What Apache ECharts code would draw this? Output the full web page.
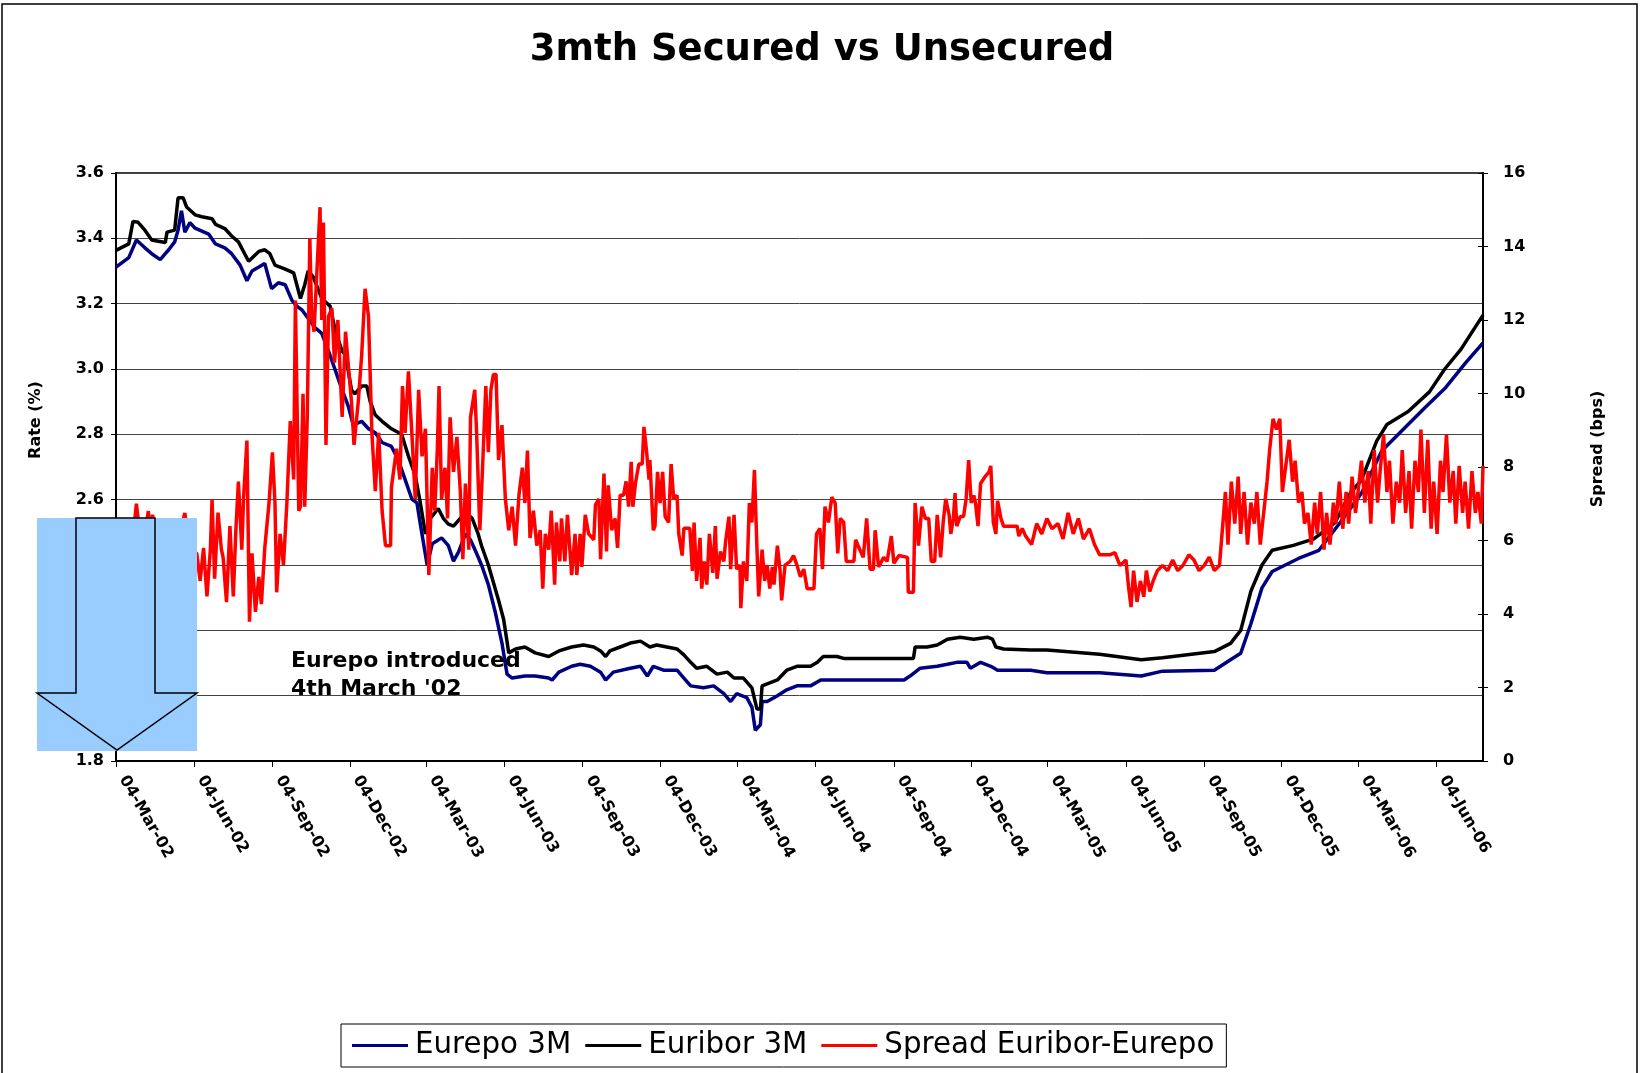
<!DOCTYPE html>
<html>
<head>
<meta charset="utf-8">
<script src="https://cdn.jsdelivr.net/npm/echarts@6/dist/echarts.min.js"></script>
<style>
html,body{margin:0;padding:0;background:#fff;}
#chart{width:1641px;height:1073px;}
</style>
</head>
<body>
<div id="chart"></div>
<script>
// ---------- DATA ----------
// Day offsets are counted in calendar days from 04-Mar-2002.
const startDate = '2002-03-04';
const endDay = 1608;

const tickDates = ['2002-03-04','2002-06-04','2002-09-04','2002-12-04','2003-03-04','2003-06-04','2003-09-04','2003-12-04','2004-03-04','2004-06-04','2004-09-04','2004-12-04','2005-03-04','2005-06-04','2005-09-04','2005-12-04','2006-03-04','2006-06-04'];
const tickLabels = ['04-Mar-02','04-Jun-02','04-Sep-02','04-Dec-02','04-Mar-03','04-Jun-03','04-Sep-03','04-Dec-03','04-Mar-04','04-Jun-04','04-Sep-04','04-Dec-04','04-Mar-05','04-Jun-05','04-Sep-05','04-Dec-05','04-Mar-06','04-Jun-06'];

const seriesNames = ['Eurepo 3M','Euribor 3M','Spread Euribor-Eurepo'];

const eurepoDay = [0,15,24,34,42,52,58,62,69,73,77,81,87,93,109,117,128,136,146,154,160,168,175,183,191,199,207,213,219,234,242,250,258,266,273,279,289,297,305,313,324,332,340,348,354,358,366,372,383,391,397,403,411,417,422,430,438,446,454,460,466,481,493,509,513,521,536,
546,558,570,576,585,605,617,625,632,644,660,668,676,691,703,715,723,730,742,748,752,758,760,766,778,789,801,817,829,848,927,934,946,966,978,989,1001,1005,1017,1029,1037,1076,
1095,1157,1206,1231,1292,1311,1323,1335,1348,1360,1391,1415,1440,1465,1489,1514,1539,1563,1588,1608];
const eurepoRate = [3.312,3.341,3.395,3.371,3.353,3.335,3.353,3.365,3.389,3.425,3.484,3.419,3.448,3.431,3.413,3.383,3.371,3.353,3.318,3.27,3.30,3.312,3.323,3.246,3.264,3.258,3.21,3.192,3.18,3.127,3.109,3.055,2.996,2.936,2.888,2.829,2.84,2.817,2.805,2.775,2.763,2.722,2.662,2.602,2.59,2.525,2.40,2.465,2.483,2.459,2.412,2.44,2.495,2.477,2.448,2.40,2.34,2.257,2.161,2.066,2.054,2.06,2.06,2.054,2.048,2.072,2.09,
2.096,2.09,2.072,2.048,2.072,2.084,2.09,2.06,2.09,2.078,2.078,2.054,2.03,2.024,2.03,2.006,1.982,2.006,1.994,1.965,1.894,1.911,1.982,1.982,2.0,2.018,2.03,2.03,2.048,2.048,2.048,2.06,2.084,2.09,2.096,2.102,2.102,2.084,2.102,2.09,2.078,2.078,
2.07,2.07,2.06,2.075,2.078,2.11,2.13,2.22,2.33,2.38,2.42,2.445,2.53,2.62,2.75,2.815,2.88,2.94,3.02,3.08];

const euriborDay = [0,15,20,26,34,42,58,60,69,73,79,83,93,101,113,117,128,136,144,156,168,175,181,187,199,209,217,222,226,232,242,252,258,266,270,277,281,289,295,299,305,313,324,336,344,352,358,364,370,379,385,391,397,405,411,419,426,430,438,450,456,462,470,481,493,509,521,536,
550,562,570,576,581,593,605,617,628,636,648,660,668,676,683,695,707,719,727,738,748,754,758,760,766,778,789,801,817,825,832,848,856,938,940,954,966,978,993,1009,1025,1031,1035,1044,1076,
1095,1157,1206,1231,1292,1311,1323,1335,1348,1360,1385,1409,1434,1452,1465,1483,1495,1520,1545,1563,1582,1608];
const euriborRate = [3.363,3.383,3.452,3.449,3.425,3.395,3.387,3.419,3.425,3.524,3.524,3.496,3.472,3.466,3.46,3.443,3.43,3.407,3.389,3.33,3.36,3.365,3.353,3.318,3.306,3.294,3.216,3.258,3.30,3.282,3.216,3.192,3.115,3.055,3.043,2.936,2.924,2.948,2.948,2.90,2.859,2.84,2.817,2.80,2.733,2.674,2.59,2.495,2.543,2.573,2.543,2.525,2.519,2.543,2.561,2.543,2.495,2.459,2.40,2.292,2.233,2.131,2.143,2.149,2.131,2.12,2.137,2.149,
2.155,2.149,2.137,2.12,2.137,2.149,2.161,2.167,2.149,2.155,2.149,2.143,2.125,2.102,2.084,2.09,2.066,2.072,2.054,2.054,2.024,1.959,1.959,2.03,2.036,2.048,2.078,2.09,2.09,2.102,2.12,2.12,2.114,2.114,2.149,2.149,2.155,2.173,2.179,2.173,2.179,2.173,2.149,2.143,2.14,
2.14,2.127,2.11,2.116,2.135,2.16,2.2,2.32,2.4,2.445,2.46,2.48,2.53,2.62,2.66,2.78,2.83,2.87,2.93,3.0,3.06,3.165];

const spreadDay = [0,5,10,15,20,24,28,33,38,40,43,48,55,62,68,75,81,85,90,95,99,103,107,111,113,116,120,124,126,130,134,138,141,144,148,150,154,157,160,164,168,171,175,180,184,187,189,193,197,201,205,209,211,215,217,220,222,225,228,230,233,236,240,242,244,247,250,254,257,261,266,270,273,277,280,285,289,293,297,301,305,309,313,317,323,324,330,334,337,340,344,348,352,356,360,364,368,372,375,378,380,383,387,390,393,397,401,405,408,411,415,417,422,424,428,431,435,438,441,444,447,450,454,458,462,466,470,474,478,481,484,487,491,495,499,502,505,509,512,516,518,522,524,528,531,
536,540,542,546,548,552,556,562,564,568,570,574,577,579,583,587,590,593,597,600,603,606,608,611,615,619,621,624,627,628,632,634,637,640,643,646,650,653,656,660,662,666,668,675,678,680,683,687,689,692,695,698,702,705,707,711,715,717,721,723,727,730,734,735,738,742,745,748,751,754,756,760,763,766,769,772,774,778,781,783,787,793,797,801,805,809,813,821,824,828,831,834,838,842,846,849,852,856,859,868,870,875,879,883,887,891,893,897,903,907,912,915,921,931,932,938,940,944,948,952,956,959,963,966,970,973,976,980,982,985,987,989,993,997,1000,1003,1006,1009,1011,1014,1017,1023,1027,1029,1032,1035,1037,1041,1044,1060,1062,1066,1070,
1077,1083,1089,1095,1101,1108,1114,1120,1126,1132,1138,1145,1151,1157,1169,1175,1181,1188,1191,1194,1197,1201,1205,1209,1212,1216,1220,1225,1231,1237,1243,1249,1255,1262,1268,1274,1280,1286,1292,
1298,1305,1308,1312,1316,1320,1323,1327,1331,1335,1339,1342,1346,1350,1354,1357,1361,1365,1369,1372,1376,1380,1384,1387,1391,1395,1398,1402,1406,1410,1413,1417,1421,1424,1428,1432,1435,1439,1443,1447,1450,1454,1458,1461,1465,1469,1473,1476,1480,1484,1487,1491,1495,1498,1502,1506,1510,1513,1517,1521,1524,1528,1532,1535,1539,1543,1547,1550,1554,1558,1561,1565,1569,1573,1576,1580,1584,1587,1591,1595,1599,1602,1606,1608];
const spreadBps = [6.2,6.6,6.0,6.4,6.1,7.0,6.2,6.0,6.8,6.2,6.7,6.0,5.8,6.3,6.0,6.2,6.75,6.0,5.7,5.65,4.9,5.8,4.48,5.75,7.13,4.96,6.76,5.75,5.54,4.32,6.39,4.48,6.28,7.6,5.75,7.13,8.72,3.79,5.65,4.06,5.01,4.27,5.8,7.02,8.4,7.02,4.59,6.18,5.33,7.02,9.25,7.66,12.53,6.81,6.92,9.99,6.92,9.36,14.23,12.21,11.68,13.17,15.07,12.0,14.65,8.6,12.1,12.32,10.84,12.0,9.36,11.68,10.84,9.78,8.6,9.78,11.05,12.85,12.1,8.93,7.34,8.93,6.81,5.86,5.86,7.45,8.5,7.66,10.2,8.93,10.6,8.93,7.13,10.1,8.29,9.04,5.06,7.98,6.81,8.5,10.2,7.13,7.98,6.6,9.35,7.87,8.82,7.34,5.49,7.55,5.75,9.35,10.1,9.04,6.28,7.87,10.2,8.4,10.1,10.52,10.52,8.19,9.14,7.13,6.28,6.92,5.86,7.24,7.98,7.02,8.45,6.07,6.81,5.86,6.28,4.69,6.18,5.75,6.81,4.8,6.49,5.43,6.6,5.43,6.7,
5.06,6.18,5.06,6.18,5.28,6.7,6.18,6.02,6.97,7.13,5.49,7.82,5.7,7.5,6.28,6.6,5.8,7.23,7.23,7.61,6.92,8.14,6.92,7.55,8.08,8.08,9.09,8.45,7.66,8.19,6.28,6.39,7.87,7.02,7.87,6.65,6.49,8.08,7.13,7.23,6.18,5.59,6.33,6.33,5.17,6.49,4.9,6.07,4.69,5.43,4.8,6.18,5.12,6.39,4.96,5.7,5.43,5.96,6.65,5.22,6.7,5.22,5.33,4.16,5.43,4.9,7.02,6.49,7.92,5.75,4.48,5.75,4.9,5.33,4.69,5.28,4.8,5.86,5.22,4.37,5.33,5.43,5.59,5.33,5.01,5.22,4.69,4.69,6.18,6.33,5.22,6.92,6.49,7.18,7.02,5.65,6.6,6.49,5.43,5.43,6.02,5.75,5.54,6.6,5.22,5.22,6.28,5.28,5.54,5.43,6.12,5.38,5.59,5.54,4.59,4.59,7.02,5.86,6.92,6.6,6.6,5.43,5.43,6.7,5.54,6.49,7.13,6.7,6.18,6.6,7.29,6.39,6.65,6.65,7.13,8.19,7.02,7.23,7.02,6.39,7.55,7.76,7.87,8.03,6.49,6.18,7.08,6.6,6.39,6.39,6.12,6.33,6.12,
5.89,6.46,6.18,6.6,6.32,6.46,6.04,6.75,6.18,6.6,6.04,6.32,5.89,5.61,5.61,5.67,5.32,5.47,4.75,4.19,5.18,4.33,4.9,4.47,5.18,4.61,4.9,5.18,5.32,5.18,5.47,5.18,5.32,5.61,5.47,5.18,5.32,5.55,5.18,
5.32,7.32,5.89,7.6,6.46,7.74,6.18,7.32,5.89,7.03,6.46,7.32,5.89,6.75,7.6,8.46,9.31,9.02,9.31,7.32,8.03,8.74,7.6,8.17,7.03,7.32,6.46,6.75,5.89,7.03,6.18,7.32,5.75,6.75,5.89,7.03,6.46,7.6,6.32,7.32,6.46,7.74,6.75,7.32,8.17,7.03,7.89,6.46,8.46,7.03,7.89,8.88,7.32,8.17,6.46,7.6,7.03,8.46,6.75,7.89,6.32,8.17,7.32,9.02,6.75,8.74,6.32,7.6,6.18,8.17,7.32,8.88,7.03,7.89,6.46,8.03,6.75,7.6,6.32,7.89,6.75,7.32,6.46,8.03];

// ---------- BUILD ----------
const DAY = 86400000;
function ts(s){ const p = s.split('-').map(Number); return Date.UTC(p[0], p[1]-1, p[2]); }
const t0 = ts(startDate);
const tickDays = tickDates.map(s => Math.round((ts(s) - t0) / DAY));
const toPairs = (days, vals) => days.map((d, i) => [d, vals[i]]);

const chart = echarts.init(document.getElementById('chart'), null, {renderer: 'canvas'});
const FONT = 'DejaVu Sans';
const LW = 3.5;

const option = {
  animation: false,
  backgroundColor: '#ffffff',
  grid: {left: 116, right: 158, top: 173, bottom: 312, show: true, borderColor: '#000', borderWidth: 1.5, backgroundColor: 'transparent'},
  legend: {
    left: 341, top: 1024, orient: 'horizontal',
    borderColor: '#000', borderWidth: 1, padding: [5, 12, 5, 11],
    itemWidth: 56, itemHeight: 3, itemGap: 14, icon: 'rect',
    textStyle: {fontFamily: FONT, fontSize: 29.3, color: '#000', lineHeight: 33, padding: [0, 0, 0, 2]},
    data: seriesNames
  },
  xAxis: {
    type: 'value',
    min: 0, max: endDay,
    splitLine: {show: false},
    axisLine: {lineStyle: {color: '#000', width: 2}},
    axisTick: {show: true, customValues: tickDays, length: 6, lineStyle: {color: '#000', width: 1}},
    axisLabel: {
      customValues: tickDays, rotate: -60, margin: 20, hideOverlap: false,
      align: 'left', verticalAlign: 'bottom',
      fontFamily: FONT, fontWeight: 'bold', fontSize: 16, color: '#000',
      formatter: function (v) {
        let best = 0, bd = Infinity;
        tickDays.forEach((t, i) => { const d = Math.abs(t - v); if (d < bd) { bd = d; best = i; } });
        return tickLabels[best];
      }
    }
  },
  yAxis: [
    {
      type: 'value', position: 'left', min: 1.8, max: 3.6, interval: 0.2,
      axisLine: {show: true, lineStyle: {color: '#000', width: 2}},
      axisTick: {show: true, length: 5, lineStyle: {color: '#000'}},
      axisLabel: {margin: 12, fontFamily: FONT, fontWeight: 'bold', fontSize: 16, color: '#000', formatter: v => v.toFixed(1)},
      splitLine: {show: true, lineStyle: {color: '#444', width: 1}}
    },
    {
      type: 'value', position: 'right', min: 0, max: 16, interval: 2,
      axisLine: {show: true, lineStyle: {color: '#000', width: 2}},
      axisTick: {show: true, length: 5, lineStyle: {color: '#000'}},
      axisLabel: {margin: 20, fontFamily: FONT, fontWeight: 'bold', fontSize: 16, color: '#000'},
      splitLine: {show: false}
    },
    {
      type: 'value', position: 'right', min: 0, max: 16, interval: 2,
      axisLine: {show: false},
      axisTick: {show: true, inside: true, length: 5, lineStyle: {color: '#000'}},
      axisLabel: {show: false},
      splitLine: {show: false}
    }
  ],
  series: [
    {name: seriesNames[0], type: 'line', yAxisIndex: 0, data: toPairs(eurepoDay, eurepoRate), symbol: 'none', showSymbol: false,
     lineStyle: {color: '#000080', width: LW}, itemStyle: {color: '#000080'}, z: 3},
    {name: seriesNames[1], type: 'line', yAxisIndex: 0, data: toPairs(euriborDay, euriborRate), symbol: 'none', showSymbol: false,
     lineStyle: {color: '#000000', width: LW}, itemStyle: {color: '#000000'}, z: 4},
    {name: seriesNames[2], type: 'line', yAxisIndex: 1, data: toPairs(spreadDay, spreadBps), symbol: 'none', showSymbol: false,
     lineStyle: {color: '#ff0000', width: LW}, itemStyle: {color: '#ff0000'}, z: 5}
  ],
  graphic: [
    {type: 'rect', z: 0, silent: true,
     shape: {x: 2, y: 4, width: 1635, height: 1200}, style: {fill: 'none', stroke: '#000', lineWidth: 1.5}},
    {type: 'text', z: 50, x: 822, y: 50,
     style: {text: '3mth Secured vs Unsecured', font: 'bold 37px "DejaVu Sans"', fill: '#000', align: 'center', verticalAlign: 'middle'}},
    {type: 'text', z: 50, x: 36, y: 420, rotation: Math.PI / 2,
     style: {text: 'Rate (%)', font: 'bold 16px "DejaVu Sans"', fill: '#000', align: 'center', verticalAlign: 'middle'}},
    {type: 'text', z: 50, x: 1598, y: 449, rotation: Math.PI / 2,
     style: {text: 'Spread (bps)', font: 'bold 16px "DejaVu Sans"', fill: '#000', align: 'center', verticalAlign: 'middle'}},
    {type: 'rect', z: 60, silent: true, shape: {x: 37, y: 518, width: 160, height: 233}, style: {fill: '#99CCFF', stroke: 'none'}},
    {type: 'polygon', z: 61, silent: true,
     shape: {points: [[76, 518], [155, 518], [155, 693], [197, 693], [117, 750], [37, 693], [76, 693]]},
     style: {fill: 'none', stroke: '#000', lineWidth: 1.5}},
    {type: 'text', z: 62, x: 291, y: 661,
     style: {text: 'Eurepo introduced', font: 'bold 22px "DejaVu Sans"', fill: '#000', align: 'left', verticalAlign: 'middle'}},
    {type: 'text', z: 62, x: 291, y: 689,
     style: {text: "4th March '02", font: 'bold 22px "DejaVu Sans"', fill: '#000', align: 'left', verticalAlign: 'middle'}}
  ]
};
chart.setOption(option);
</script>
</body>
</html>
